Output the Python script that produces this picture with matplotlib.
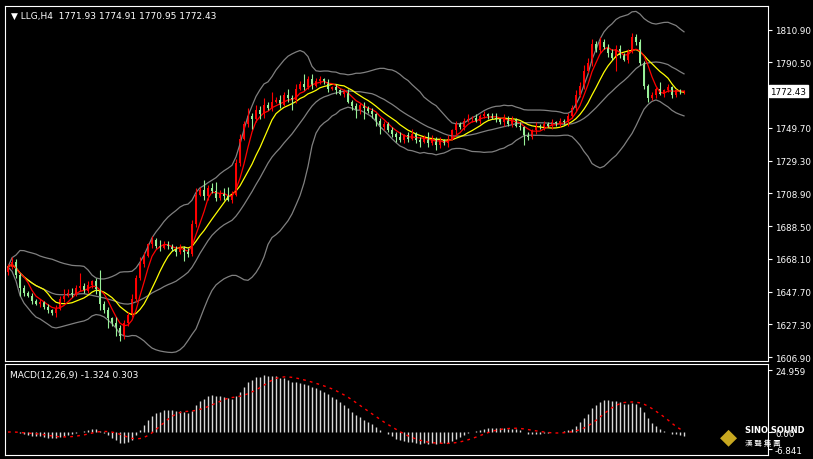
import numpy as np
import pandas as pd
import matplotlib
matplotlib.use('Agg')
import matplotlib.pyplot as plt

# H4 closes left to right
closes = [
    1663, 1666, 1658, 1650, 1647, 1645, 1642, 1640, 1641, 1638,
    1636, 1634, 1637, 1643, 1645, 1647, 1646, 1650, 1651, 1648,
    1652, 1654, 1649, 1640, 1636, 1631, 1628, 1625, 1620, 1628,
    1633, 1643, 1656, 1665, 1670, 1677, 1680, 1676, 1675, 1677,
    1676, 1674, 1672, 1675, 1672, 1671, 1690, 1708, 1711, 1707,
    1712, 1710, 1706, 1709, 1707, 1705, 1708, 1728, 1743, 1752,
    1757, 1755, 1761, 1758, 1764, 1762, 1766, 1767, 1764, 1770,
    1768, 1767, 1774, 1777, 1775, 1780, 1776, 1779, 1780, 1778,
    1774, 1775, 1773, 1771, 1772, 1766, 1763, 1761, 1764, 1762,
    1760, 1758, 1754, 1750, 1752, 1748, 1746, 1744, 1742, 1745,
    1743, 1746, 1742, 1741, 1744, 1740, 1743, 1739, 1742, 1740,
    1743, 1748, 1752, 1750, 1754, 1755, 1756, 1754, 1757, 1758,
    1757, 1756, 1755, 1753, 1756, 1752, 1755, 1751, 1750, 1745,
    1744, 1748, 1751, 1750, 1752, 1751, 1753, 1752, 1754, 1753,
    1757, 1762, 1770, 1776, 1785, 1790, 1802, 1798, 1803, 1800,
    1796, 1793, 1799, 1795, 1792, 1797, 1806, 1803, 1790, 1776,
    1768, 1770, 1774, 1771, 1773, 1775, 1770, 1773, 1772, 1772.43,
]
first_open = 1660
upper_wicks = [
    2, 3, 2, 1, 2, 1, 2, 1, 2, 1,
    2, 1, 2, 2, 4, 2, 3, 2, 8, 2,
    2, 1, 2, 12, 2, 2, 1, 4, 2, 2,
    2, 3, 2, 4, 2, 1, 2, 1, 4, 2,
    2, 1, 2, 2, 1, 3, 2, 4, 2, 6,
    2, 3, 6, 2, 3, 6, 2, 2, 3, 2,
    5, 2, 3, 2, 4, 2, 6, 2, 3, 2,
    4, 2, 3, 2, 6, 2, 3, 2, 2, 1,
    2, 1, 2, 1, 2, 2, 1, 2, 1, 2,
    1, 2, 1, 2, 2, 1, 2, 1, 3, 1,
    2, 3, 1, 2, 1, 3, 2, 1, 2, 1,
    2, 1, 2, 1, 2, 3, 1, 2, 1, 2,
    1, 2, 3, 1, 2, 1, 2, 1, 2, 1,
    2, 1, 2, 1, 2, 1, 2, 1, 2, 1,
    2, 2, 3, 2, 4, 3, 3, 2, 3, 2,
    2, 3, 2, 2, 1, 2, 3, 2, 2, 1,
    1, 2, 1, 4, 1, 2, 1, 1, 1, 1,
]
lower_wicks = [
    2, 1, 2, 5, 2, 1, 2, 1, 2, 1,
    2, 1, 2, 1, 2, 1, 2, 1, 2, 1,
    1, 2, 3, 4, 2, 6, 2, 5, 3, 2,
    2, 1, 2, 1, 2, 1, 2, 1, 2, 1,
    2, 1, 2, 1, 5, 2, 1, 2, 1, 2,
    2, 1, 2, 1, 2, 1, 2, 1, 2, 1,
    2, 6, 2, 3, 2, 1, 2, 1, 2, 1,
    2, 6, 2, 1, 2, 1, 2, 1, 2, 1,
    2, 1, 2, 1, 2, 1, 2, 5, 3, 7,
    1, 2, 3, 4, 2, 1, 2, 3, 1, 2,
    2, 1, 2, 3, 1, 2, 1, 3, 2, 1,
    2, 1, 2, 1, 2, 1, 2, 1, 2, 1,
    2, 1, 2, 1, 2, 1, 2, 1, 2, 6,
    2, 1, 2, 1, 2, 1, 2, 1, 2, 1,
    2, 1, 2, 1, 2, 1, 2, 1, 2, 1,
    2, 1, 8, 2, 1, 2, 1, 2, 1, 2,
    2, 1, 2, 1, 2, 1, 2, 1, 1, 1,
]
price_ticks = [1810.90, 1790.50, 1749.70, 1729.30, 1708.90, 1688.50,
               1668.10, 1647.70, 1627.30, 1606.90]
last_price = 1772.43
title_text = '\u25bc LLG,H4  1771.93 1774.91 1770.95 1772.43'
macd_text = 'MACD(12,26,9) -1.324 0.303'
macd_ticks = [24.959, 0.0, -6.841]

BULL = '#ff0000'
BEAR = '#98f098'

c = pd.Series(closes, dtype=float)
o = c.shift(1).fillna(first_open)
hi = np.maximum(o, c) + np.array(upper_wicks)
lo = np.minimum(o, c) - np.array(lower_wicks)
x = np.arange(len(c))

mid = c.rolling(20, min_periods=1).mean()
sd = c.rolling(20, min_periods=1).std().fillna(0)
ma_fast = c.rolling(5, min_periods=1).mean()
ma_slow = c.rolling(10, min_periods=1).mean()
macd = c.ewm(span=12).mean() - c.ewm(span=26).mean()
signal = macd.rolling(9, min_periods=1).mean()

fig = plt.figure(figsize=(8.13, 4.6), dpi=100, facecolor='black')
W, H = 813, 460
ax = fig.add_axes([5 / W, 1 - 362 / H, 763 / W, 355 / H], facecolor='black')
ax2 = fig.add_axes([5 / W, 1 - 456 / H, 763 / W, 91 / H], facecolor='black')

# bands and averages
ax.plot(x, mid + 2 * sd, color='#808080', lw=0.9)
ax.plot(x, mid, color='#808080', lw=0.9)
ax.plot(x, mid - 2 * sd, color='#808080', lw=0.9)
ax.plot(x, ma_slow, color='#ffff00', lw=0.9)
ax.plot(x, ma_fast, color='#ff0000', lw=0.9)

for i in x:
    col = BULL if c[i] >= o[i] else BEAR
    ax.vlines(i, lo[i], hi[i], color=col, lw=0.8)
    b0, b1 = min(o[i], c[i]), max(o[i], c[i])
    ax.bar(i, max(b1 - b0, 0.5), bottom=b0, width=0.7, color=col, lw=0)

def p_at(y):
    return 1810.9 - (y - 30.5) * 0.6229

ax.set_xlim(-0.75, 190)
ax.set_ylim(p_at(362), p_at(7))
ax.yaxis.tick_right()
ax.set_yticks(price_ticks)
ax.set_yticklabels([f'{t:.2f}' for t in price_ticks])
ax.set_xticks([])
ax.tick_params(axis='y', colors='white', labelcolor='white', labelsize=6.3,
               length=3, direction='out', pad=2)
for s in ax.spines.values():
    s.set_color('white')
ax.text(0.008, 0.985, title_text, transform=ax.transAxes, color='white',
        fontsize=6.5, va='top', ha='left')
ax.text(1.003, last_price, f'{last_price:.2f}', transform=ax.get_yaxis_transform(),
        color='black', fontsize=6.3, va='center', ha='left', clip_on=False,
        bbox=dict(boxstyle='square,pad=0.15', facecolor='white', edgecolor='white'))

# MACD panel
ax2.vlines(x, 0, macd, color='#d8d8d8', lw=1.0)
ax2.plot(x, signal, color='#ff0000', lw=1.0, ls=(0, (2, 3)))
ax2.set_xlim(-0.75, 190)
ax2.set_ylim(-9.25, 27.4)
ax2.yaxis.tick_right()
ax2.set_yticks(macd_ticks)
ax2.set_yticklabels(['24.959', '0.00', '-6.841'])
ax2.set_xticks([])
ax2.tick_params(axis='y', colors='white', labelcolor='white', labelsize=6.3,
                length=3, direction='out', pad=2)
for s in ax2.spines.values():
    s.set_color('white')
ax2.text(0.006, 0.93, macd_text, transform=ax2.transAxes, color='white',
         fontsize=6.5, va='top', ha='left')

# watermark logo text
fig.text(745 / W, 1 - 431 / H, 'SINO SOUND', color='white', fontsize=6,
         fontweight='bold', ha='left', va='center')
fig.text(745 / W, 1 - 444 / H, '漢 聲 集 團', color='white', fontsize=5.5,
         ha='left', va='center', family=['Noto Sans CJK TC', 'DejaVu Sans'])
fig.text(728 / W, 1 - 437 / H, '\u25c6', color='#c8a820', fontsize=16,
         ha='center', va='center')

fig.savefig('out.png', dpi=100, facecolor='black')
